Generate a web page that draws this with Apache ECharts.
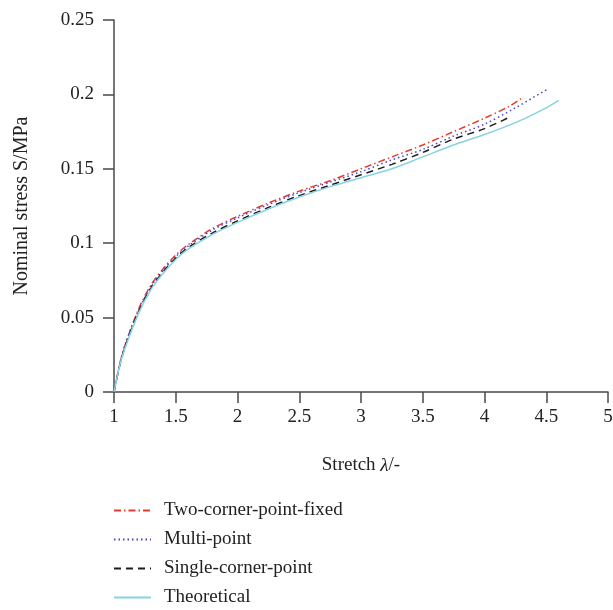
<!DOCTYPE html>
<html>
<head>
<meta charset="utf-8">
<script src="https://cdn.jsdelivr.net/npm/echarts@6/dist/echarts.min.js"></script>
<style>
  html, body { margin: 0; padding: 0; background: #fff; }
  #chart { width: 613px; height: 610px; }
</style>
</head>
<body>
<div id="chart"></div>
<script>
// Stress–stretch curves: nominal stress S (MPa) against stretch λ
const seriesNames = ['Two-corner-point-fixed', 'Multi-point', 'Single-corner-point', 'Theoretical'];

const stretchTwoCorner = [1, 1.05, 1.1, 1.2, 1.3, 1.4, 1.5, 1.6, 1.8, 2, 2.25, 2.5, 2.75, 3, 3.25, 3.5, 3.75, 4, 4.2, 4.31];
const stressTwoCorner  = [0, 0.020, 0.034, 0.056, 0.072, 0.083, 0.092, 0.099, 0.110, 0.118, 0.127, 0.135, 0.142, 0.150, 0.158, 0.166, 0.175, 0.184, 0.192, 0.198];

const stretchMulti = [1, 1.05, 1.1, 1.2, 1.3, 1.4, 1.5, 1.6, 1.8, 2, 2.25, 2.5, 2.75, 3, 3.25, 3.5, 3.75, 4, 4.25, 4.52];
const stressMulti  = [0, 0.020, 0.034, 0.055, 0.071, 0.082, 0.091, 0.098, 0.109, 0.117, 0.126, 0.134, 0.141, 0.148, 0.156, 0.163, 0.172, 0.180, 0.191, 0.204];

const stretchSingle = [1, 1.05, 1.1, 1.2, 1.3, 1.4, 1.5, 1.6, 1.8, 2, 2.25, 2.5, 2.75, 3, 3.25, 3.5, 3.75, 4, 4.21];
const stressSingle  = [0, 0.019, 0.033, 0.054, 0.070, 0.081, 0.090, 0.097, 0.107, 0.115, 0.124, 0.132, 0.139, 0.146, 0.153, 0.161, 0.170, 0.177, 0.185];

const stretchTheory = [1, 1.05, 1.1, 1.2, 1.3, 1.4, 1.5, 1.6, 1.8, 2, 2.25, 2.5, 2.75, 3, 3.25, 3.5, 3.75, 4, 4.25, 4.5, 4.6];
const stressTheory  = [0, 0.019, 0.032, 0.053, 0.069, 0.080, 0.089, 0.096, 0.106, 0.114, 0.123, 0.131, 0.138, 0.144, 0.150, 0.158, 0.166, 0.173, 0.181, 0.191, 0.196];

const FONT = '"Liberation Serif", "DejaVu Serif", serif';
const AXIS_COLOR = '#4a4a4a';

function pairs(xs, ys) { return xs.map((x, i) => [x, ys[i]]); }
function fmt(v) { return String(+v.toFixed(2)); }

const chart = echarts.init(document.getElementById('chart'), null, { renderer: 'canvas' });

function lineSeries(name, xs, ys, color, type) {
  return {
    name: name,
    type: 'line',
    data: pairs(xs, ys),
    symbol: 'none',
    smooth: 0.3,
    animation: false,
    lineStyle: { color: color, width: 1.5, type: type },
    itemStyle: { color: color }
  };
}

chart.setOption({
  animation: false,
  backgroundColor: '#fff',
  grid: { left: 114, right: 5, top: 20, bottom: 218, outerBoundsMode: 'none' },
  xAxis: {
    type: 'value',
    min: 1, max: 5, interval: 0.5,
    name: 'Stretch {i|λ}/-',
    nameLocation: 'middle',
    nameGap: 64,
    nameTextStyle: {
      fontFamily: FONT, fontSize: 19, color: '#222',
      rich: { i: { fontFamily: FONT, fontSize: 19, fontStyle: 'italic', color: '#222' } }
    },
    splitLine: { show: false },
    axisLine: { show: true, lineStyle: { color: AXIS_COLOR, width: 1.5 } },
    axisTick: { show: true, inside: false, length: 11, lineStyle: { color: AXIS_COLOR, width: 1.5 } },
    axisLabel: { fontFamily: FONT, fontSize: 19, color: '#222', margin: 16, formatter: fmt }
  },
  yAxis: {
    type: 'value',
    min: 0, max: 0.25, interval: 0.05,
    name: 'Nominal stress S/MPa',
    nameLocation: 'middle',
    nameGap: 82,
    nameTextStyle: { fontFamily: FONT, fontSize: 20, color: '#222' },
    splitLine: { show: false },
    axisLine: { show: true, onZero: false, lineStyle: { color: AXIS_COLOR, width: 1.5 } },
    axisTick: { show: true, inside: false, length: 11, lineStyle: { color: AXIS_COLOR, width: 1.5 } },
    axisLabel: { fontFamily: FONT, fontSize: 19, color: '#222', margin: 20, formatter: fmt }
  },
  legend: {
    orient: 'vertical',
    left: 113,
    top: 501,
    padding: 0,
    height: 140,
    itemWidth: 37,
    itemHeight: 14,
    itemGap: 10,
    itemStyle: { opacity: 0 },
    textStyle: { fontFamily: FONT, fontSize: 19, color: '#222', lineHeight: 19, padding: [0, 0, 0, 8] },
    data: seriesNames
  },
  series: [
    lineSeries(seriesNames[0], stretchTwoCorner, stressTwoCorner, '#e63a30', [7, 3, 1.5, 3]),
    lineSeries(seriesNames[1], stretchMulti, stressMulti, '#4646c8', [1.5, 3]),
    lineSeries(seriesNames[2], stretchSingle, stressSingle, '#1c1c1c', [7, 5]),
    lineSeries(seriesNames[3], stretchTheory, stressTheory, '#86d3e2', 'solid')
  ]
});
</script>
</body>
</html>
